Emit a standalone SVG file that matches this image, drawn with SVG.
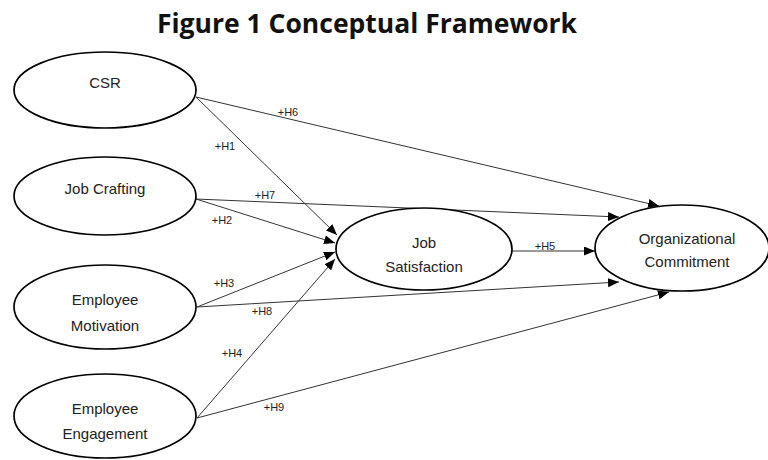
<svg xmlns="http://www.w3.org/2000/svg" width="768" height="460" viewBox="0 0 768 460">
<style>
.node ellipse{fill:#fff;stroke:#000;stroke-width:1.7}
.nt{font-family:"Liberation Sans",Arial,sans-serif;font-size:15px;fill:#222;text-anchor:middle}
.lbl{font-family:"Liberation Sans",Arial,sans-serif;font-size:11px;fill:#222;text-anchor:middle}
.conn line{stroke:#333;stroke-width:1;marker-end:url(#ah)}
.title{font-family:"Open Sans",sans-serif;font-weight:bold;font-size:26.5px;fill:#111;text-anchor:middle}
</style>
<defs>
<marker id="ah" markerUnits="userSpaceOnUse" markerWidth="12" markerHeight="10" refX="11" refY="4.5" orient="auto">
<path d="M0,0 L11,4.5 L0,9 z" fill="#000"/>
</marker>
</defs>
<rect width="768" height="460" fill="#fff"/>
<text class="title" x="367" y="33">Figure 1 Conceptual Framework</text>
<g class="conn">
<line x1="196" y1="97" x2="337" y2="235"/>
<line x1="196" y1="97" x2="659" y2="206"/>
<line x1="196" y1="199" x2="619" y2="217"/>
<line x1="196" y1="199" x2="335" y2="243"/>
<line x1="197" y1="307" x2="335" y2="252"/>
<line x1="197" y1="307" x2="619" y2="282"/>
<line x1="197" y1="418" x2="335" y2="259"/>
<line x1="197" y1="418" x2="669" y2="292"/>
<line x1="512" y1="251" x2="595" y2="251"/>
</g>
<g class="labels">
<text class="lbl" x="288" y="116">+H6</text>
<text class="lbl" x="225" y="150">+H1</text>
<text class="lbl" x="265" y="199">+H7</text>
<text class="lbl" x="222" y="224">+H2</text>
<text class="lbl" x="224" y="287">+H3</text>
<text class="lbl" x="262" y="315">+H8</text>
<text class="lbl" x="232" y="357">+H4</text>
<text class="lbl" x="274" y="411">+H9</text>
<text class="lbl" x="545" y="250">+H5</text>
</g>
<g id="csr" class="node"><ellipse cx="105" cy="90" rx="91" ry="38"/><text class="nt" x="105" y="88">CSR</text></g>
<g id="job-crafting" class="node"><ellipse cx="105" cy="196" rx="91" ry="39"/><text class="nt" x="105" y="194">Job Crafting</text></g>
<g id="employee-motivation" class="node"><ellipse cx="105" cy="307" rx="91" ry="42"/><text class="nt" x="105" y="305">Employee</text><text class="nt" x="105" y="331">Motivation</text></g>
<g id="employee-engagement" class="node"><ellipse cx="105" cy="416" rx="91" ry="42"/><text class="nt" x="105" y="414">Employee</text><text class="nt" x="105" y="439">Engagement</text></g>
<g id="job-satisfaction" class="node"><ellipse cx="424" cy="249" rx="88" ry="41"/><text class="nt" x="424" y="248">Job</text><text class="nt" x="424" y="272">Satisfaction</text></g>
<g id="organizational-commitment" class="node"><ellipse cx="682" cy="248" rx="87" ry="43"/><text class="nt" x="687" y="244">Organizational</text><text class="nt" x="687" y="267">Commitment</text></g>
</svg>
